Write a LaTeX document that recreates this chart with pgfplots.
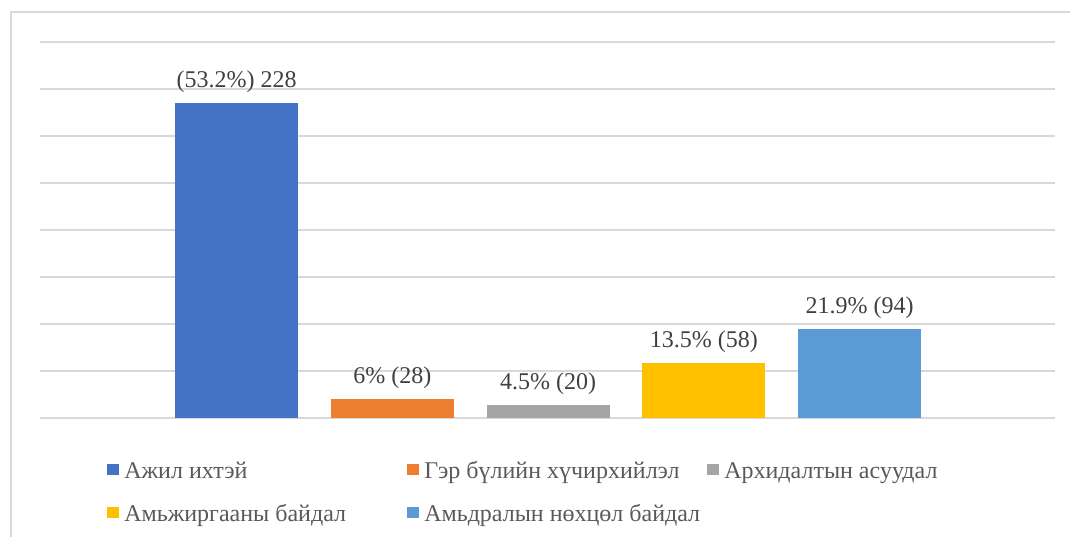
\documentclass[border=0pt]{standalone}
\usepackage{pgfplots}
\pgfplotsset{compat=1.18}
\usepackage{fontspec}
\setmainfont{Liberation Serif}

\definecolor{cA}{HTML}{4472C4}
\definecolor{cB}{HTML}{ED7D31}
\definecolor{cC}{HTML}{A5A5A5}
\definecolor{cD}{HTML}{FFC000}
\definecolor{cE}{HTML}{5B9BD5}
\definecolor{gridc}{HTML}{D9D9D9}
\definecolor{legc}{HTML}{595959}
\definecolor{labc}{HTML}{404040}

\begin{document}
\begin{tikzpicture}[font=\fontsize{18pt}{21.6pt}\selectfont]
\useasboundingbox (0,0) rectangle (802.5pt,402pt);
% outer frame (only left and top edges are in view)
\draw[gridc, line width=1pt] (8.25pt,-10pt) -- (8.25pt,393pt) -- (815pt,393pt);
\begin{axis}[
  at={(30pt,88.5pt)}, anchor=south west,
  scale only axis, width=761.25pt, height=282pt,
  xmin=-0.262, xmax=6.255, ymin=0, ymax=80,
  ytick={0,10,...,80}, yticklabels={}, xtick=\empty,
  major tick length=0pt,
  ymajorgrids, grid style={gridc, line width=0.9pt},
  axis line style={draw=none},
  ybar, bar width=92.25pt, bar shift=0pt,
  nodes near coords, point meta=explicit symbolic,
  every node near coord/.append style={anchor=base, inner sep=0pt,
    yshift=12pt, text=labc, font=\fontsize{18pt}{21.6pt}\selectfont},
  legend columns=3, legend cell align=left,
  legend style={at={(axis description cs:0.066,-0.1128)}, anchor=north west,
    draw=none, fill=none, inner sep=0pt, column sep=0pt, row sep=15.5pt,
    nodes={inner sep=0pt, text height=13pt, text depth=4pt, anchor=west, text=legc},
    font=\fontsize{18pt}{21.6pt}\selectfont},
  legend image code/.code={\fill[#1] (0pt,-2.25pt) rectangle (8.5pt,6.25pt);},
]
\addplot[fill=cA, draw=none] coordinates {(1,67.0) [(53.2\%) 228]};
\addlegendentry{\makebox[216.5pt][l]{\hspace{4.3pt}Ажил ихтэй}}
\addplot[fill=cB, draw=none] coordinates {(2,4.0) [6\% (28)]};
\addlegendentry{\makebox[216.5pt][l]{\hspace{4.3pt}Гэр бүлийн хүчирхийлэл}}
\addplot[fill=cC, draw=none] coordinates {(3,2.7) [4.5\% (20)]};
\addlegendentry{\makebox[216.5pt][l]{\hspace{4.3pt}Архидалтын асуудал}}
\addplot[fill=cD, draw=none] coordinates {(4,11.7) [13.5\% (58)]};
\addlegendentry{\makebox[216.5pt][l]{\hspace{4.3pt}Амьжиргааны байдал}}
\addplot[fill=cE, draw=none] coordinates {(5,18.9) [21.9\% (94)]};
\addlegendentry{\makebox[216.5pt][l]{\hspace{4.3pt}Амьдралын нөхцөл байдал}}
\end{axis}
\end{tikzpicture}
\end{document}
